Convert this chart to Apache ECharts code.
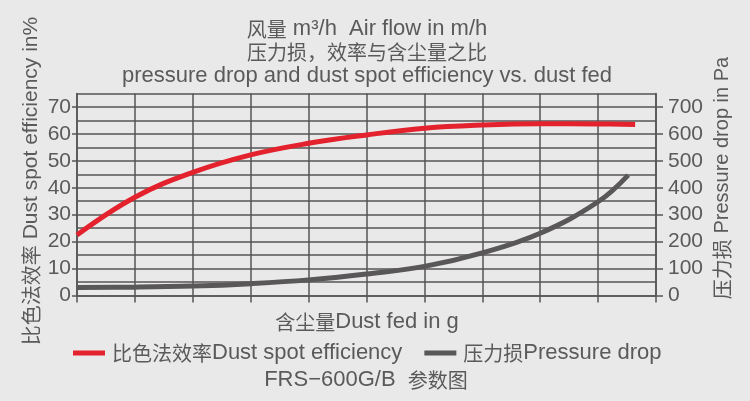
<!DOCTYPE html>
<html>
<head>
<meta charset="utf-8">
<script src="https://cdn.jsdelivr.net/npm/echarts@6/dist/echarts.min.js"></script>
<style>
html,body{margin:0;padding:0;background:#e9e9e9;}
#chart{width:750px;height:401px;}
</style>
</head>
<body>
<div id="chart"></div>
<script>
// Data
const effX = [0, 1, 2, 3, 4, 5, 6, 7, 8, 9, 9.64];
const effY = [22.5, 36.5, 45.7, 52.2, 56.5, 59.6, 62.1, 63.3, 63.8, 63.7, 63.5];
const dropX = [0, 1, 2, 3, 4, 5, 6, 7, 8, 9, 9.52];
const dropY = [30, 31, 35, 44, 58, 80, 108, 158, 231, 348, 447];
const leftTicks = [0, 10, 20, 30, 40, 50, 60, 70];
const rightTicks = [0, 100, 200, 300, 400, 500, 600, 700];

const txt = '#5a5a5a';
const font = '"Liberation Sans", Arial, "Noto Sans CJK SC", sans-serif';
const cjkFont = '"Noto Sans CJK SC", sans-serif';
const gridCol = '#555555';

// split a string into CJK / Latin runs for rich text
function richify(s) {
  const re = /([\u3000-\u9fff\uff00-\uffef]+)/;
  return s.split(re).filter(p => p.length).map(p => re.test(p) ? '{c|' + p + '}' : '{l|' + p + '}').join('');
}
function richStyles(latinSize, cjkSize) {
  return {
    l: { fontSize: latinSize, fontFamily: font, fill: txt, color: txt },
    c: { fontSize: cjkSize, fontFamily: cjkFont, fill: txt, color: txt }
  };
}
function label(x, y, s, latinSize, cjkSize, rot) {
  const el = {
    type: 'text', x: x, y: y,
    style: { x: 0, y: 0, text: richify(s), rich: richStyles(latinSize, cjkSize), textAlign: 'center', textVerticalAlign: 'middle', fill: txt }
  };
  if (rot) el.rotation = rot;
  return el;
}

const chart = echarts.init(document.getElementById('chart'));
chart.setOption({
  backgroundColor: '#e9e9e9',
  animation: false,
  textStyle: { fontFamily: font, color: txt },
  grid: { left: 77, right: 94, top: 93.5, bottom: 105.5 },
  xAxis: {
    type: 'value', min: 0, max: 10, interval: 1,
    axisLine: { show: true, lineStyle: { color: gridCol, width: 1.5 } },
    axisTick: { show: true, length: 7, lineStyle: { color: gridCol, width: 1.5 } },
    axisLabel: { show: false },
    splitLine: { show: true, lineStyle: { color: gridCol, width: 1.5 } }
  },
  yAxis: [
    {
      type: 'value', min: 0, max: 75, position: 'left',
      axisLine: { show: true, lineStyle: { color: gridCol, width: 1.5 } },
      axisTick: { show: true, length: 5, customValues: leftTicks, lineStyle: { color: gridCol, width: 1.5 } },
      axisLabel: { customValues: leftTicks, fontSize: 21, color: txt, fontFamily: font, margin: 6 },
      splitLine: { show: false }
    },
    {
      type: 'value', min: 0, max: 750, position: 'right',
      axisLine: { show: true, lineStyle: { color: gridCol, width: 1.5 } },
      axisTick: { show: true, length: 7, customValues: rightTicks, lineStyle: { color: gridCol, width: 1.5 } },
      axisLabel: { customValues: rightTicks, fontSize: 21, color: txt, fontFamily: font, margin: 12 },
      splitLine: { show: false }
    },
    {
      type: 'value', min: 0, max: 75, interval: 5, position: 'left',
      axisLine: { show: false }, axisTick: { show: false }, axisLabel: { show: false },
      splitLine: { show: true, lineStyle: { color: gridCol, width: 1.5 } }
    }
  ],
  legend: {
    left: 68, top: 337, itemWidth: 32, itemHeight: 5, itemGap: 22,
    icon: 'rect',
    formatter: name => richify(name),
    textStyle: { color: txt, padding: [0, 0, 0, 2], rich: richStyles(22, 20) },
    data: ['比色法效率Dust spot efficiency', '压力损Pressure drop']
  },
  series: [
    {
      name: '比色法效率Dust spot efficiency', type: 'line', yAxisIndex: 0,
      data: effX.map((x, i) => [x, effY[i]]),
      smooth: 0.4, showSymbol: false, z: 5,
      itemStyle: { color: '#e3222e' },
      lineStyle: { color: '#e3222e', width: 5 }
    },
    {
      name: '压力损Pressure drop', type: 'line', yAxisIndex: 1,
      data: dropX.map((x, i) => [x, dropY[i]]),
      smooth: 0.4, showSymbol: false, z: 4,
      itemStyle: { color: '#595757' },
      lineStyle: { color: '#595757', width: 5 }
    }
  ],
  graphic: [
    label(367, 29, '风量 m³/h  Air flow in m/h', 22, 20),
    label(367, 52, '压力损，效率与含尘量之比', 22, 20),
    label(367, 76, 'pressure drop and dust spot efficiency vs. dust fed', 22, 20),
    label(31, 181, '比色法效率 Dust spot efficiency in%', 21, 20, Math.PI / 2),
    label(722, 178, '压力损 Pressure drop in Pa', 20, 20, Math.PI / 2),
    label(367, 322, '含尘量Dust fed in g', 22, 20),
    label(366, 380, 'FRS−600G/B  参数图', 22, 20)
  ]
});
</script>
</body>
</html>
